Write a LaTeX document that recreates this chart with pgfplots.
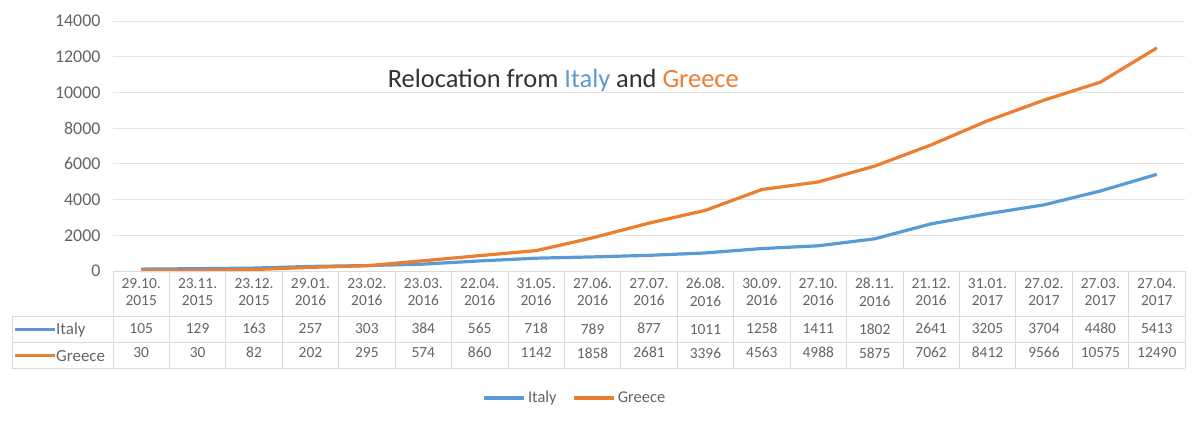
\documentclass[border=0pt]{standalone}
\usepackage{pgfplots}
\pgfplotsset{compat=1.18}
\usepackage{fontspec}
\setmainfont{Carlito}
\definecolor{italy}{HTML}{5B9BD5}
\definecolor{greece}{HTML}{ED7D31}
\definecolor{txt}{HTML}{646464}
\definecolor{gridc}{HTML}{E3E3E3}
\definecolor{tabc}{HTML}{DADADA}
\begin{document}
\begin{tikzpicture}[x=1bp,y=1bp]
\useasboundingbox (0,0) rectangle (1193,423);
\begin{axis}[
  at={(113bp,152bp)}, anchor=south west,
  scale only axis, width=1072bp, height=250bp,
  xmin=-0.5, xmax=18.5, ymin=0, ymax=14000,
  ytick={0,2000,...,14000},
  xtick={0,...,18},
  xticklabels={
    {29.10.\\2015\\[11bp]105\\[6.5bp]30},
    {23.11.\\2015\\[11bp]129\\[6.5bp]30},
    {23.12.\\2015\\[11bp]163\\[6.5bp]82},
    {29.01.\\2016\\[11bp]257\\[6.5bp]202},
    {23.02.\\2016\\[11bp]303\\[6.5bp]295},
    {23.03.\\2016\\[11bp]384\\[6.5bp]574},
    {22.04.\\2016\\[11bp]565\\[6.5bp]860},
    {31.05.\\2016\\[11bp]718\\[6.5bp]1142},
    {27.06.\\2016\\[11bp]789\\[6.5bp]1858},
    {27.07.\\2016\\[11bp]877\\[6.5bp]2681},
    {26.08.\\2016\\[11bp]1011\\[6.5bp]3396},
    {30.09.\\2016\\[11bp]1258\\[6.5bp]4563},
    {27.10.\\2016\\[11bp]1411\\[6.5bp]4988},
    {28.11.\\2016\\[11bp]1802\\[6.5bp]5875},
    {21.12.\\2016\\[11bp]2641\\[6.5bp]7062},
    {31.01.\\2017\\[11bp]3205\\[6.5bp]8412},
    {27.02.\\2017\\[11bp]3704\\[6.5bp]9566},
    {27.03.\\2017\\[11bp]4480\\[6.5bp]10575},
    {27.04.\\2017\\[11bp]5413\\[6.5bp]12490}},
  xticklabel style={align=center, font=\fontsize{15.5}{17.5}\selectfont, text=txt, yshift=-3.5bp},
  yticklabel style={font=\fontsize{18}{20}\selectfont, text=txt, xshift=-9bp},
  /pgf/number format/assume math mode=true,
  scaled y ticks=false,
  yticklabel={\pgfmathprintnumber[fixed,1000 sep={}]{\tick}},
  axis line style={draw=none},
  major tick style={draw=none},
  ymajorgrids, grid style={gridc, line width=0.8bp},
  clip=false,
  legend columns=2,
  legend style={at={(0.431,-0.508)}, anchor=center, draw=none, fill=none,
    font=\fontsize{16.5}{18}\selectfont, text=txt,
    /tikz/every even column/.append style={column sep=14bp}},
  legend image code/.code={\draw[#1] (0bp,0bp) -- (40bp,0bp);},
]
\addplot[italy, line width=3.2bp, line join=round] coordinates {
(0,105)(1,129)(2,163)(3,257)(4,303)(5,384)(6,565)(7,718)(8,789)(9,877)
(10,1011)(11,1258)(12,1411)(13,1802)(14,2641)(15,3205)(16,3704)(17,4480)(18,5413)};
\addlegendentry{Italy}
\addplot[greece, line width=3.2bp, line join=round] coordinates {
(0,30)(1,30)(2,82)(3,202)(4,295)(5,574)(6,860)(7,1142)(8,1858)(9,2681)
(10,3396)(11,4563)(12,4988)(13,5875)(14,7062)(15,8412)(16,9566)(17,10575)(18,12490)};
\addlegendentry{Greece}
\node[font=\fontsize{26.5}{30}\selectfont, text=black!80] at (axis cs:7.48,10650)
  {Relocation from \textcolor{italy}{Italy} and \textcolor{greece}{Greece}};
\end{axis}
% data table grid
\begin{scope}[tabc, line width=0.7bp]
\draw (113,152) -- (1185,152);
\draw (12,107) -- (1185,107);
\draw (12,81) -- (1185,81);
\draw (12,55) -- (1185,55);
\draw (12,107) -- (12,55);
\foreach \k in {0,...,19} \draw ({113+\k*56.421},152) -- ({113+\k*56.421},55);
\end{scope}
\draw[italy, line width=3bp] (15,94) -- (55,94);
\node[anchor=west, inner sep=1bp, text=txt, font=\fontsize{17}{19}\selectfont] at (55,93) {Italy};
\draw[greece, line width=3bp] (15,68) -- (55,68);
\node[anchor=west, inner sep=1bp, text=txt, font=\fontsize{17}{19}\selectfont] at (55,67) {Greece};
\end{tikzpicture}
\end{document}
